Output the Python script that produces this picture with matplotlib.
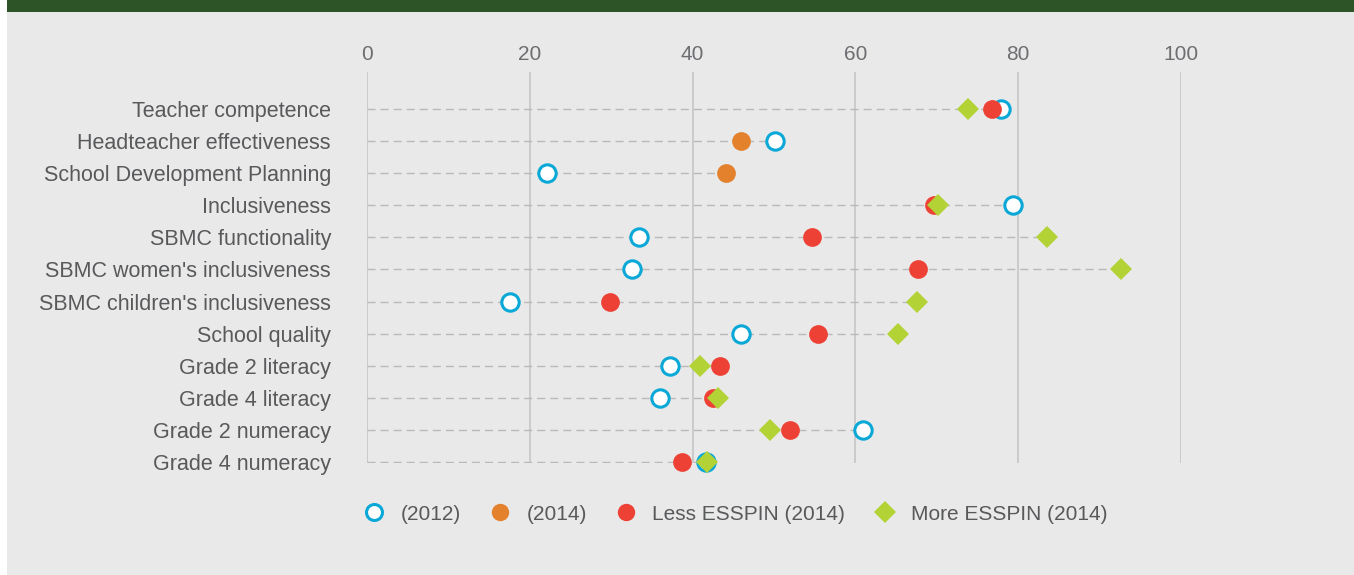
import numpy as np
import matplotlib.pyplot as plt
from matplotlib.lines import Line2D
from matplotlib.patches import Rectangle

# categories, top to bottom
categories = [
    "Teacher competence",
    "Headteacher effectiveness",
    "School Development Planning",
    "Inclusiveness",
    "SBMC functionality",
    "SBMC women's inclusiveness",
    "SBMC children's inclusiveness",
    "School quality",
    "Grade 2 literacy",
    "Grade 4 literacy",
    "Grade 2 numeracy",
    "Grade 4 numeracy",
]
nan = np.nan
vals_2012 = [77.9, 50.1, 22.1, 79.4, 33.4, 32.6, 17.6, 46.0, 37.2, 36.0, 60.9, 41.7]
vals_2014 = [nan, 45.9, 44.1, nan, nan, nan, nan, nan, nan, nan, nan, nan]
less_esspin = [76.8, nan, nan, 69.7, 54.7, 67.7, 29.9, 55.4, 43.4, 42.5, 52.0, 38.7]
more_esspin = [73.8, nan, nan, 70.2, 83.5, 92.6, 67.6, 65.2, 40.9, 43.1, 49.5, 41.8]
xticks = [0, 20, 40, 60, 80, 100]

BLUE = "#0aa8d6"
ORANGE = "#e3812d"
RED = "#ee4136"
GREEN = "#b2d235"
TXT = "#58595b"

plt.rcParams['font.family'] = ['Liberation Sans', 'DejaVu Sans']

W, H = 1354, 575
fig = plt.figure(figsize=(W / 100, H / 100), dpi=100)
fig.patch.set_facecolor("white")

# background panel + green title band
fig.patches.append(Rectangle((7 / W, 0), 1, (H - 12) / H, transform=fig.transFigure,
                             facecolor="#e9e9e9", edgecolor="none", zorder=-2))
fig.patches.append(Rectangle((7 / W, (H - 12) / H), 1, 12 / H, transform=fig.transFigure,
                             facecolor="#2d5427", edgecolor="none", zorder=-2))

ax = fig.add_axes([367 / W, (H - 463) / H, (1181 - 367) / W, (463 - 72) / H])
ax.set_facecolor("none")
for s in ax.spines.values():
    s.set_visible(False)

y = np.arange(len(categories))
ax.set_xlim(0, 100)
ax.set_ylim(11.03, -1.15)

for xv in xticks:
    ax.axvline(xv, color="#c3c3c3", lw=1.1, zorder=0)

row_max = np.nanmax(np.vstack([vals_2012, vals_2014, less_esspin, more_esspin]), axis=0)
ax.hlines(y, 0, row_max, colors="#b9b9b9", lw=1.0, linestyles=(0, (5.8, 3.6)), zorder=1)

ax.plot(vals_2012, y, "o", ms=12.5, mfc="white", mec=BLUE, mew=2.2, ls="none", zorder=3, clip_on=False)
ax.plot(vals_2014, y, "o", ms=13.5, color=ORANGE, mew=0, ls="none", zorder=4, clip_on=False)
ax.plot(less_esspin, y, "o", ms=13.5, color=RED, mew=0, ls="none", zorder=5, clip_on=False)
ax.plot(more_esspin, y, "D", ms=11, color=GREEN, mew=0, ls="none", zorder=6, clip_on=False)

ax.xaxis.tick_top()
ax.set_xticks(xticks)
ax.set_xticklabels([str(t) for t in xticks], fontsize=15, color="#6d6e71",
                   family=['Liberation Sans Narrow', 'Liberation Sans'])
ax.tick_params(axis="x", length=0, pad=6)
ax.set_yticks(y)
ax.set_yticklabels(categories, fontsize=15.5, color=TXT)
ax.tick_params(axis="y", length=0, pad=26)

handles = [
    Line2D([], [], marker="o", ls="none", ms=11.5, mfc="white", mec=BLUE, mew=2.2),
    Line2D([], [], marker="o", ls="none", ms=12.5, color=ORANGE, mew=0),
    Line2D([], [], marker="o", ls="none", ms=12.5, color=RED, mew=0),
    Line2D([], [], marker="D", ls="none", ms=11, color=GREEN, mew=0),
]
labels = ["(2012)", "(2014)", "Less ESSPIN (2014)", "More ESSPIN (2014)"]
leg = fig.legend(handles, labels, loc="center left", bbox_to_anchor=(364 / W, (H - 514) / H),
                 ncol=4, frameon=False, fontsize=15, borderaxespad=0, borderpad=0,
                 handlelength=1.0, handletextpad=0.75, columnspacing=1.4)
for t in leg.get_texts():
    t.set_color(TXT)

fig.savefig("out.png", dpi=100)
